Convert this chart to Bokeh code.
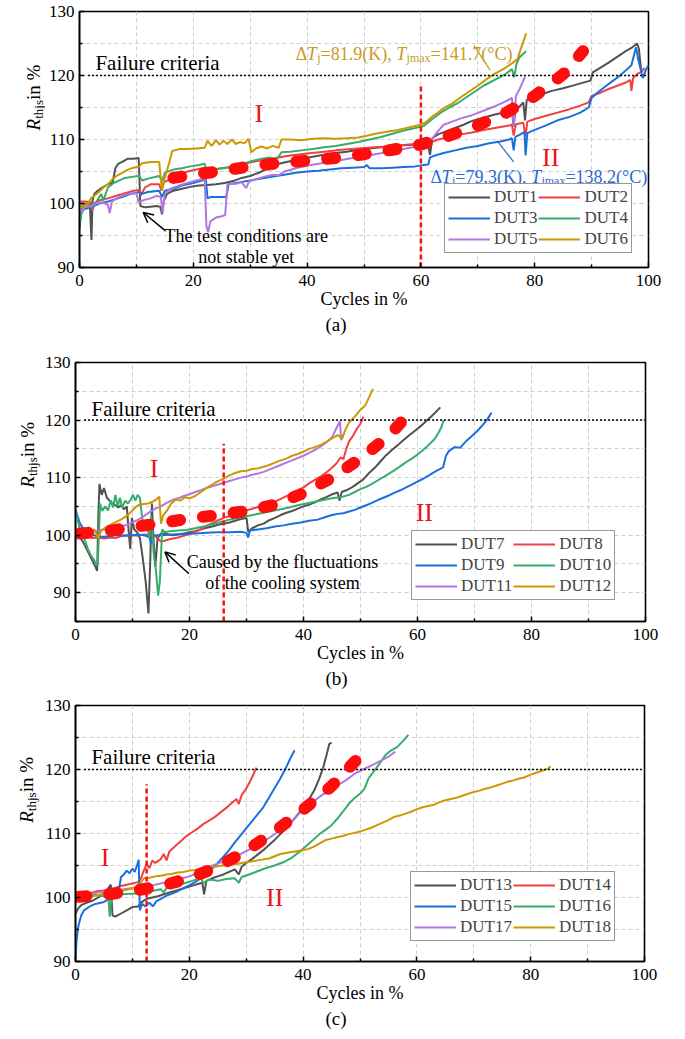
from math import pi
from bokeh.plotting import figure
from bokeh.layouts import column, row
from bokeh.models import Range1d, FixedTicker, Label, Arrow, OpenHead, Legend, LegendItem, Title
from bokeh.embed import file_html
from bokeh.resources import INLINE

# ---------------------------------------------------------------- data
cycles_ticks = [0, 20, 40, 60, 80, 100]
cycles_minor = [10, 30, 50, 70, 90]
r_ticks = [90, 100, 110, 120, 130]
r_minor = [85, 95, 105, 115, 125]
failure_level = 120

# panel (a)
dut1 = [(0, 96.0), (0.4, 99.5), (0.8, 100.0), (1.2, 99.8), (1.8, 100.2), (2.1, 94.3), (2.3, 100.5), (2.6, 101.5),
        (3.2, 102.0), (4, 102.5), (5, 103.0), (5.8, 103.2), (6.3, 105.5), (6.8, 106.2), (7.5, 106.5), (8.5, 107.0),
        (9.5, 107.0), (10.4, 107.1), (10.7, 99.6), (11.5, 99.4), (12.5, 99.5), (13.5, 99.6), (14.2, 99.5),
        (14.5, 98.3), (14.8, 100.4), (15.4, 101.5), (16.5, 102.0), (18, 102.3), (19.5, 102.6), (21, 102.8),
        (22.5, 102.9), (24, 103.0), (25.5, 103.2), (27, 103.5), (28.5, 104.0), (30, 104.3), (31.5, 104.8),
        (33, 105.5), (35, 106.2), (37, 106.6), (39, 107.0), (41, 107.3), (43, 107.6), (45, 107.9), (47, 108.1),
        (49, 108.4), (51, 108.6), (53, 108.8), (55, 108.9), (57, 109.1), (59, 109.2), (60.5, 109.3), (61.3, 109.0),
        (61.6, 107.6), (62, 110.2), (63, 110.8), (64.5, 111.3), (66, 111.8), (67.5, 112.3), (69, 112.9),
        (71, 113.4), (73, 113.9), (75, 114.3), (76, 114.5), (76.3, 112.0), (76.6, 114.6), (77.2, 115.0),
        (78, 115.8), (78.3, 113.0), (78.6, 116.2), (79.5, 116.6), (81, 117.0), (83, 117.6), (85, 118.0),
        (87, 118.5), (89, 119.0), (89.8, 119.2), (90.2, 120.5), (91.5, 121.2), (93, 122.0), (94.5, 122.9),
        (96, 123.8), (97, 124.3), (98, 125.0), (98.3, 124.2), (98.7, 121.0)]
dut2 = [(0, 100.3), (1, 100.3), (2, 100.2), (2.3, 99.0), (2.6, 100.0), (3.5, 100.5), (5, 100.8), (6.5, 101.2),
        (8, 101.6), (9.5, 102.0), (10.5, 102.1), (10.8, 101.3), (11.5, 102.5), (12.5, 103.0), (14, 103.0),
        (14.4, 102.0), (14.8, 103.3), (16, 103.8), (17.5, 104.5), (19, 105.0), (20.5, 105.3), (22, 105.6),
        (23, 105.2), (25, 105.5), (27, 105.8), (29, 106.2), (31, 106.6), (33, 106.9), (35, 107.2), (37, 107.5),
        (40, 107.8), (43, 108.1), (46, 108.4), (49, 108.6), (52, 108.8), (55, 109.0), (58, 109.2), (60, 109.3),
        (61.5, 109.5), (63, 110.0), (65, 110.4), (67, 110.8), (69, 111.1), (71, 111.5), (73, 111.8), (75, 112.1),
        (76, 112.3), (76.3, 110.6), (76.7, 112.4), (78, 112.6), (78.4, 110.5), (78.7, 112.8), (80, 113.2),
        (82, 113.7), (84, 114.2), (86, 114.7), (88, 115.3), (89.5, 115.8), (90, 116.8), (91.5, 117.3),
        (93, 117.9), (94.5, 118.4), (96, 118.9), (96.8, 119.3), (97, 117.6), (97.3, 119.6), (98, 120.2),
        (98.8, 120.6), (99.3, 121.2)]
dut3 = [(0, 98.5), (0.5, 99.0), (1.5, 99.3), (2.5, 99.6), (3.5, 100.0), (5, 100.3), (6, 100.6), (7.5, 101.0),
        (9, 101.5), (10.5, 101.8), (11, 101.5), (12, 101.8), (14, 102.0), (14.5, 101.0), (15, 102.0),
        (16.5, 102.3), (18, 102.8), (20, 103.2), (21.5, 103.6), (22.2, 103.8), (22.5, 100.8), (23, 101.0),
        (25, 101.0), (25.8, 101.0), (26.2, 103.0), (28, 103.3), (30, 103.6), (32, 103.9), (34, 104.2),
        (36, 104.5), (38, 104.8), (40, 105.0), (42, 105.1), (44, 105.3), (46, 105.5), (48, 105.6), (50, 105.7),
        (50.5, 106.0), (51, 105.5), (53, 105.5), (55, 105.6), (57, 105.7), (59, 105.8), (60.5, 106.0),
        (61.3, 106.1), (61.6, 107.2), (62.5, 107.5), (64, 107.9), (66, 108.3), (68, 108.7), (70, 109.0),
        (72, 109.4), (74, 109.7), (75.5, 110.0), (76, 110.2), (76.3, 108.3), (76.6, 110.4), (77.5, 110.8),
        (78.2, 111.2), (78.4, 107.5), (78.7, 111.0), (80, 111.5), (82, 112.2), (84, 113.0), (86, 113.5),
        (88, 114.2), (89.5, 115.0), (90, 116.5), (91, 117.3), (92, 118.0), (93.5, 119.0), (95, 120.0),
        (96, 120.8), (97, 121.6), (97.8, 124.4), (98.2, 122.5), (99, 119.6), (99.5, 120.8), (100, 121.6)]
dut4 = [(0, 97.0), (0.5, 99.0), (1.2, 100.0), (2, 99.6), (3, 100.3), (3.8, 101.5), (4.2, 100.5), (5, 102.5),
        (6, 103.2), (7, 103.6), (8, 104.0), (9.5, 104.2), (10.5, 104.3), (11, 103.6), (12.5, 104.0), (14, 104.3),
        (14.5, 103.5), (15, 104.8), (16.5, 105.3), (18, 105.5), (19.5, 105.8), (21, 106.0), (22, 106.2),
        (22.3, 105.2), (24, 105.4), (26, 105.6), (27.5, 105.8), (29, 106.3), (30.5, 106.7), (32, 107.0),
        (33.5, 107.2), (34.5, 106.7), (35.5, 108.0), (37, 108.1), (39, 108.3), (41, 108.5), (43, 108.8),
        (45, 109.0), (47, 109.3), (49, 109.6), (51, 110.0), (53, 110.4), (55, 110.9), (57, 111.4), (59, 111.8),
        (60.5, 112.1), (62, 113.2), (63.5, 114.2), (65, 115.0), (66.5, 115.7), (68, 116.6), (69.5, 117.5),
        (71, 118.4), (72.5, 119.1), (74, 119.8), (75, 120.3), (76, 121.0), (76.4, 119.7), (76.8, 121.8),
        (77.3, 122.8), (78, 123.4), (78.5, 123.8)]
dut5 = [(0, 99.5), (0.5, 98.6), (1, 99.6), (2, 99.5), (3, 100.0), (4, 100.2), (5, 99.8), (5.3, 98.5),
        (5.7, 100.3), (6.5, 100.8), (7.5, 101.2), (8.5, 101.5), (10, 101.6), (10.4, 100.2), (11.5, 100.6),
        (12.5, 100.8), (13.5, 101.2), (14.3, 101.0), (14.6, 98.5), (15, 101.5), (16, 102.3), (17.5, 102.8),
        (19, 103.2), (20.5, 103.6), (22, 103.9), (22.3, 96.5), (22.6, 95.5), (23, 97.2), (24, 97.8), (25, 98.0),
        (25.6, 98.2), (26, 103.0), (27.5, 103.1), (28.5, 103.3), (29.3, 102.4), (29.8, 103.5), (31, 103.8),
        (32.5, 104.2), (34, 104.5), (35, 104.4), (36, 105.0), (38, 105.5), (40, 105.9), (42, 106.2),
        (44, 106.5), (46, 106.8), (48, 107.1), (50, 107.4), (52, 107.7), (54, 108.0), (56, 108.3), (58, 108.7),
        (60, 109.0), (61.5, 109.4), (62.3, 110.5), (63, 111.3), (64, 112.3), (65.5, 112.8), (67, 113.3),
        (69, 113.8), (71, 114.5), (73, 115.2), (75, 116.0), (76, 116.5), (76.3, 112.0), (76.7, 116.8),
        (77.3, 117.8), (77.8, 118.8), (78.3, 119.8)]
dut6 = [(0, 99.0), (0.6, 100.0), (1.2, 99.5), (2, 100.8), (2.6, 101.2), (3.4, 101.8), (4.2, 102.5), (5, 103.0),
        (5.8, 103.8), (6.5, 104.3), (7.5, 104.8), (8.5, 105.3), (9.5, 105.6), (10.5, 105.8), (11, 106.3),
        (12.5, 106.5), (14, 106.5), (14.5, 102.0), (15, 104.0), (15.8, 106.5), (16.3, 108.2), (17.5, 108.5),
        (19, 108.5), (20.5, 108.6), (22, 108.7), (22.5, 109.8), (23.2, 109.0), (24, 109.9), (24.6, 109.2),
        (25.3, 109.8), (26, 109.3), (26.8, 110.0), (27.5, 109.3), (28.2, 109.6), (29, 109.4), (29.7, 110.1),
        (30.2, 108.0), (31, 108.6), (32, 108.9), (33, 108.6), (34, 109.0), (35, 108.7), (35.5, 110.0),
        (37, 110.0), (39, 109.9), (41, 110.1), (43, 110.2), (45, 110.1), (47, 110.2), (49, 110.3),
        (50.5, 110.6), (52, 110.9), (54, 111.2), (56, 111.5), (58, 111.9), (60, 112.3), (61, 112.8),
        (62, 113.6), (63, 114.2), (64, 114.9), (65.5, 115.6), (67, 116.6), (68.5, 117.5), (70, 118.4),
        (71.5, 119.4), (73, 120.3), (74.5, 121.0), (76, 121.9), (77, 122.6), (77.5, 124.0), (78, 125.3),
        (78.5, 126.6)]
trend_a = [(16.5, 104.0), (20, 104.5), (25, 105.1), (30, 105.8), (35, 106.3), (40, 106.7), (45, 107.1),
           (50, 107.7), (55, 108.4), (60, 109.2), (65, 110.6), (70, 112.2), (75, 114.2), (80, 116.8),
           (85, 120.2), (88.5, 123.8)]
boundary_a = (60, 118.3)

# panel (b)
dut7 = [(0, 101.0), (0.5, 100.5), (1, 99.3), (1.5, 98.5), (2, 97.5), (2.5, 96.5), (3, 95.5), (3.5, 94.5),
        (3.8, 93.8), (4.0, 103.0), (4.2, 108.9), (4.6, 107.0), (5.0, 108.2), (5.5, 106.5), (6, 106.0),
        (6.5, 105.5), (7, 105.2), (7.5, 104.8), (8, 105.2), (8.5, 104.5), (9, 105.0), (9.3, 101.0), (9.6, 97.6),
        (9.9, 103.0), (10.3, 101.0), (10.8, 100.5), (11.3, 99.5), (11.8, 96.0), (12.3, 92.0), (12.8, 86.4),
        (13.1, 95.0), (13.4, 105.5), (13.7, 99.0), (14.0, 94.5), (14.4, 99.5), (15, 100.3), (16, 100.2),
        (17, 100.0), (18, 100.1), (19, 100.3), (20, 100.5), (21, 100.7), (22, 101.0), (23, 101.3), (24, 101.5),
        (25, 101.8), (26, 102.0), (27, 102.2), (28, 102.5), (29, 102.8), (30, 103.0), (30.3, 100.6),
        (31, 101.2), (32, 101.7), (33, 102.0), (34, 102.6), (35, 103.0), (36, 103.5), (37, 103.9), (38, 104.2),
        (39, 104.6), (40, 105.0), (41, 105.3), (42, 105.7), (43, 106.2), (44, 106.6), (45, 107.1), (46, 107.4),
        (46.3, 106.0), (46.7, 107.5), (47.5, 107.8), (48.5, 108.3), (49.5, 109.0), (50.5, 109.7),
        (51.5, 110.8), (52.5, 111.7), (53.5, 112.8), (54.5, 113.9), (55.5, 114.8), (56.5, 115.6),
        (57.5, 116.5), (58.5, 117.3), (59.5, 118.1), (60.5, 118.9), (61.5, 119.8), (62.5, 120.7),
        (63.3, 121.5), (64, 122.2)]
dut8 = [(0, 100.0), (1, 100.2), (2, 99.8), (3, 99.5), (4, 99.6), (5, 99.4), (6, 99.6), (7, 99.5), (8, 99.8),
        (9, 100.0), (10, 100.0), (11, 99.9), (12, 100.1), (13, 100.0), (14, 99.8), (15, 98.9), (15.5, 99.0),
        (16.5, 99.3), (18, 99.6), (19, 99.9), (20, 100.2), (21, 100.6), (22, 101.0), (23, 101.6), (24, 102.1),
        (25, 102.6), (26, 103.0), (27, 103.3), (28, 103.6), (29, 104.0), (30, 104.3), (31, 104.6), (32, 104.9),
        (33, 105.1), (34, 105.4), (35, 105.8), (36, 106.3), (37, 106.8), (38, 107.3), (39, 107.8), (40, 108.3),
        (41, 109.0), (42, 109.6), (43, 110.2), (44, 110.9), (45, 111.7), (45.8, 112.5), (46.5, 113.5),
        (47, 113.2), (47.5, 115.0), (48, 116.3), (48.7, 117.3), (49.3, 118.4), (50, 119.4), (50.5, 120.6)]
dut9 = [(0, 104.5), (0.3, 103.5), (0.8, 102.0), (1.5, 101.0), (2.5, 100.3), (3.5, 99.9), (5, 99.7), (6, 99.8),
        (7, 100.0), (8, 100.0), (9, 99.9), (10, 100.0), (11, 100.1), (12, 100.0), (13, 99.6), (13.2, 98.6),
        (13.5, 100.0), (15, 100.0), (17, 100.1), (19, 100.2), (21, 100.3), (23, 100.4), (25, 100.5),
        (27, 100.5), (29, 100.6), (30, 100.4), (30.3, 99.6), (30.6, 100.8), (32, 101.0), (33.5, 101.2),
        (35, 101.5), (36.5, 101.7), (38, 102.0), (39.5, 102.2), (41, 102.5), (42.5, 102.7), (44, 103.2),
        (45, 103.5), (46, 103.7), (47, 103.8), (48, 104.1), (49, 104.4), (50, 104.8), (51, 105.2), (52, 105.6),
        (53, 106.1), (54, 106.5), (55, 106.9), (56, 107.4), (57, 107.8), (58, 108.3), (59, 108.8), (60, 109.3),
        (61, 109.8), (62, 110.4), (63, 111.0), (64, 111.5), (64.5, 111.8), (65, 113.8), (65.5, 114.6),
        (66.5, 115.3), (67.5, 115.2), (68.5, 116.3), (69.5, 117.2), (70.5, 118.1), (71.5, 119.2),
        (72.3, 120.2), (73, 121.3)]
dut10 = [(0, 104.2), (0.4, 102.5), (0.8, 101.0), (1.2, 100.0), (1.7, 99.0), (2.2, 97.5), (2.7, 96.5),
         (3.2, 95.8), (3.6, 95.0), (3.9, 94.8), (4.1, 100.0), (4.3, 105.5), (4.7, 104.2), (5.2, 105.0),
         (5.7, 104.3), (6.2, 106.0), (6.6, 104.8), (7.0, 107.0), (7.4, 105.0), (7.8, 106.5), (8.2, 104.8),
         (8.7, 106.0), (9.2, 105.5), (9.7, 106.2), (10.1, 107.0), (10.5, 106.0), (10.9, 107.0), (11.3, 106.5),
         (11.7, 103.0), (12.1, 101.0), (12.5, 102.5), (12.9, 99.5), (13.3, 103.5), (13.7, 97.0), (14.1, 94.0),
         (14.5, 89.5), (14.8, 92.0), (15.2, 101.0), (15.7, 100.5), (16.5, 100.7), (18, 100.8), (19.5, 100.9),
         (21, 101.2), (22.5, 101.5), (24, 101.9), (25.5, 102.3), (27, 102.7), (28.5, 103.0), (30, 103.3),
         (31.5, 103.6), (33, 103.9), (34.5, 104.2), (36, 104.5), (37.5, 104.8), (39, 105.2), (40.5, 105.5),
         (42, 105.8), (43.5, 106.1), (45, 106.4), (46.5, 106.6), (48, 107.0), (49, 107.5), (50, 108.0),
         (51, 108.4), (52, 108.9), (53, 109.5), (54, 110.1), (55, 110.7), (56, 111.3), (57, 112.0), (58, 112.7),
         (59, 113.3), (60, 114.0), (61, 114.8), (62, 115.7), (63, 116.7), (63.7, 117.8), (64.2, 118.8),
         (64.6, 120.0)]
dut11 = [(0, 99.0), (0.5, 99.8), (1, 100.3), (2, 100.4), (3, 100.6), (4, 100.8), (5, 101.0), (6, 101.1),
         (7, 101.3), (8, 101.5), (9, 101.8), (10, 102.2), (11, 102.7), (12, 103.3), (13, 104.0), (14, 104.6),
         (15, 105.0), (16, 105.6), (17, 106.1), (18, 106.4), (19, 106.8), (20, 107.1), (21, 107.5), (22, 107.8),
         (23, 108.2), (24, 108.5), (25, 108.8), (26, 109.1), (27, 109.4), (28, 109.7), (29, 110.0), (30, 110.2),
         (31, 110.5), (32, 110.7), (33, 111.0), (34, 111.4), (35, 111.8), (36, 112.2), (37, 112.6), (38, 113.0),
         (39, 113.4), (40, 113.8), (41, 114.3), (42, 114.8), (43, 115.4), (44, 116.1), (45, 117.0),
         (45.5, 118.0), (46, 119.0), (46.4, 119.8), (46.6, 116.5), (46.9, 117.5)]
dut12 = [(0, 99.5), (0.5, 100.0), (1.5, 100.3), (2.5, 100.5), (3.3, 101.0), (4, 99.5), (4.5, 100.8),
         (5.5, 101.5), (6.5, 102.0), (7.5, 102.5), (8.5, 103.0), (9.5, 103.8), (10.5, 104.8), (11.2, 105.3),
         (12, 105.4), (12.8, 105.5), (13.5, 105.8), (14.2, 106.2), (14.7, 106.7), (15, 102.0), (15.4, 103.5),
         (16, 104.2), (16.8, 105.5), (17.6, 106.2), (18.4, 106.0), (19.2, 106.6), (20, 106.4), (21, 106.8),
         (22, 107.5), (23, 108.2), (24, 108.8), (25, 109.4), (26, 109.8), (27, 110.4), (28, 110.8), (29, 111.1),
         (30, 111.2), (31, 111.5), (32, 111.6), (33, 111.9), (34, 112.2), (35, 112.6), (36, 113.0), (37, 113.3),
         (38, 113.8), (39, 114.1), (40, 114.5), (41, 115.0), (42, 115.3), (43, 115.7), (44, 116.2), (45, 116.8),
         (46, 117.4), (46.8, 116.8), (47.3, 118.2), (48, 119.6), (49, 120.6), (50, 121.8), (50.8, 122.5),
         (51.3, 123.5), (51.8, 124.6), (52.2, 125.4)]
trend_b = [(0.8, 100.3), (5, 100.6), (10, 101.4), (15, 102.1), (20, 102.9), (25, 103.5), (30, 104.2),
           (35, 105.3), (40, 107.3), (45, 110.0), (50, 113.3), (55, 117.3), (59.3, 122.0)]
boundary_b = (26, 115.9)

# panel (c)
dut13 = [(0, 97.5), (0.5, 98.3), (1, 98.8), (2, 99.2), (3, 99.5), (4, 100.0), (5, 100.7), (5.8, 101.5),
         (6.2, 102.0), (6.5, 97.2), (7, 97.0), (8, 97.5), (9, 98.0), (10, 98.5), (11, 98.6), (11.5, 99.2),
         (12.5, 99.8), (13.5, 100.0), (14.5, 100.2), (15.5, 100.5), (17, 100.9), (18.5, 101.3), (20, 101.7),
         (21.5, 102.1), (22.3, 102.3), (22.6, 100.5), (23, 102.6), (24, 103.0), (25, 103.3), (26, 103.6),
         (27, 104.0), (28, 104.4), (28.7, 103.6), (29.2, 104.8), (30, 105.4), (31, 106.0), (32, 106.7),
         (33, 107.4), (34, 108.2), (35, 109.0), (36, 109.9), (37, 110.8), (38, 111.8), (39, 112.9), (40, 114.0),
         (41, 115.3), (42, 116.8), (42.8, 118.5), (43.5, 120.2), (44.1, 122.2), (44.6, 124.0), (45, 124.2)]
dut14 = [(0, 99.8), (1, 100.3), (2, 100.6), (3, 100.8), (4, 101.0), (5, 101.1), (6, 101.3), (7, 101.5),
         (8, 101.8), (9, 102.0), (10, 102.2), (11, 102.4), (11.5, 103.0), (12, 104.2), (12.5, 105.2),
         (13, 104.6), (13.5, 105.8), (14, 105.4), (15, 106.0), (15.5, 106.8), (16, 105.8), (16.5, 107.2),
         (17.5, 108.0), (18.5, 108.8), (19.5, 109.6), (20.5, 110.2), (21.5, 110.8), (22.5, 111.5), (23.5, 112.0),
         (24.5, 112.6), (25.5, 113.3), (26.5, 114.0), (27.5, 114.8), (28.3, 115.4), (28.7, 114.6), (29.2, 116.0),
         (30, 117.0), (30.6, 118.0), (31.2, 119.1), (31.8, 120.3)]
dut15 = [(0, 90.5), (0.2, 93.5), (0.5, 95.5), (1, 97.2), (1.5, 98.0), (2.5, 98.6), (3.5, 99.0), (5, 99.3),
         (6, 99.8), (7, 100.5), (7.6, 101.0), (8, 103.2), (8.5, 103.6), (9, 104.2), (9.5, 103.8), (10, 104.5),
         (10.4, 104.0), (10.8, 105.0), (11.1, 105.9), (11.3, 98.0), (11.7, 99.0), (12.3, 98.6), (13, 99.2),
         (13.6, 98.6), (14.2, 99.4), (15, 99.8), (16, 100.3), (17, 100.6), (18, 101.0), (19, 101.5), (20, 101.9),
         (21, 102.4), (22, 103.0), (23, 103.7), (24, 104.5), (25, 105.4), (26, 106.4), (27, 107.4), (28, 108.6),
         (29, 109.7), (30, 110.8), (31, 111.9), (32, 113.0), (33, 114.1), (34, 115.6), (35, 117.1), (36, 118.6),
         (37, 120.3), (37.8, 121.8), (38.5, 123.0)]
dut16 = [(0, 100.0), (1, 100.3), (2, 100.5), (3, 100.4), (4, 100.3), (5, 100.2), (5.8, 99.8), (6, 97.0),
         (6.3, 100.0), (7, 100.3), (8, 100.5), (10, 100.6), (12, 100.7), (13.5, 101.0), (15, 101.3), (15.5, 100.8),
         (16, 101.5), (17.5, 101.8), (19, 102.2), (20.5, 102.6), (22, 103.0), (22.5, 102.3), (23.5, 102.8),
         (25, 102.6), (26.5, 102.9), (28, 103.0), (28.7, 102.3), (29.2, 103.2), (30.5, 103.6), (32, 104.1),
         (33.5, 104.6), (35, 105.0), (36.5, 105.5), (38, 106.2), (39, 106.9), (40, 107.6), (41, 108.4),
         (42, 109.2), (43, 110.0), (44, 110.6), (45, 111.3), (46, 112.3), (47, 113.4), (48, 114.6), (49, 115.5),
         (50, 116.2), (50.8, 117.0), (51.5, 118.6), (52.5, 119.8), (53.5, 121.0), (54.5, 122.3), (55.5, 123.0),
         (56.5, 123.5), (57.5, 124.4), (58.5, 125.4)]
dut17 = [(0, 100.0), (1, 100.3), (2, 100.5), (3, 100.6), (4, 100.8), (5, 100.9), (6, 101.0), (8, 101.2),
         (10, 101.5), (12, 101.7), (14, 102.0), (16, 102.4), (18, 102.8), (20, 103.3), (22, 104.0), (23.5, 104.8),
         (25, 105.3), (26.5, 105.8), (28, 106.3), (29.5, 107.0), (31, 107.7), (32.5, 108.4), (34, 109.3),
         (35.5, 110.2), (37, 111.1), (38.5, 112.3), (40, 113.8), (41.5, 114.8), (43, 115.8), (44.5, 116.7),
         (46, 117.5), (47.5, 118.3), (49, 119.3), (50.5, 120.0), (52, 120.6), (53.5, 121.3), (55, 122.0),
         (56.2, 122.8)]
dut18 = [(0, 99.4), (1, 99.8), (2, 100.0), (3, 100.2), (4, 100.4), (5, 100.6), (6, 100.7), (7, 100.9),
         (8, 101.0), (9, 101.2), (10, 101.4), (11, 101.8), (11.6, 102.5), (12, 103.0), (13, 103.1), (14, 103.3),
         (15, 103.4), (16, 103.6), (17, 103.7), (18, 103.9), (19, 104.0), (20, 104.2), (21, 104.3), (22, 104.5),
         (23, 104.6), (24, 104.7), (25, 104.9), (26, 105.0), (28, 105.2), (30, 105.5), (32, 105.8), (34, 106.1),
         (36, 106.8), (38, 107.1), (40, 107.4), (41, 107.6), (42, 108.0), (43, 108.5), (44, 109.0), (45, 109.2),
         (46, 109.4), (47, 109.6), (48, 109.9), (49, 110.1), (50, 110.3), (51, 110.6), (52, 110.9), (53, 111.3),
         (54, 111.7), (55, 112.1), (56, 112.6), (57, 112.8), (58, 113.1), (59, 113.4), (60, 113.8), (61, 114.1),
         (62, 114.3), (63, 114.5), (64, 114.9), (65, 115.2), (66, 115.4), (67, 115.6), (68, 115.9), (69, 116.2),
         (70, 116.5), (71, 116.7), (72, 117.0), (73, 117.2), (74, 117.5), (75, 117.8), (76, 118.1), (77, 118.3),
         (78, 118.6), (79, 118.8), (80, 119.2), (81, 119.5), (82, 119.8), (83, 120.1), (83.5, 120.5)]
trend_c = [(0.5, 100.1), (5, 100.4), (10, 101.0), (15, 101.8), (20, 103.0), (25, 104.8), (30, 107.3),
           (35, 110.3), (40, 113.7), (45, 117.4), (49.7, 121.8)]
boundary_c = (12.5, 117.7)

# ---------------------------------------------------------------- style
FONT = "Liberation Serif"
COLORS = ["#515151", "#F14040", "#1A6FDF", "#37AD6B", "#B177DE", "#CC9900"]
RED = "#ff0d0d"
NUMERAL_RED = "#e8141c"
GOLD_TXT = "#c99a1e"
BLUE_TXT = "#2a6bd0"
PAGE_W = 685
AXIS_ROOM = 34  # room Bokeh reserves for the y tick labels

EM = {' ': .25, '.': .25, ',': .25, '=': .564, '(': .333, ')': .333, 'K': .722, 'C': .667, '°': .4,
      'Δ': .612, 'T': .58, 'j': .278, 'm': .778, 'a': .444, 'x': .5, 't': .278, 'h': .5, 's': .389,
      'i': .278, 'n': .5, '%': .833, 'R': .611}


def tw(s, size):
    return sum(EM.get(ch, .5) for ch in s) * size


def rich(p, x, y, segs, color, vertical=False, level="annotation"):
    adv = 0.0
    for txt, size, italic, shift in segs:
        kw = dict(x=x, y=y, text=txt, text_font=FONT, text_font_size=f"{size}px",
                  text_font_style="italic" if italic else "normal", text_color=color,
                  text_align="left", text_baseline="alphabetic", level=level)
        if vertical:
            p.add_layout(Label(x_offset=shift, y_offset=adv, angle=pi / 2, **kw))
        else:
            p.add_layout(Label(x_offset=adv, y_offset=-shift, **kw))
        adv += tw(txt, size)


def make_fig(width, height, ymin, left, right, top, bottom, caption, cap_offset):
    p = figure(width=width, height=height, x_range=Range1d(0, 100), y_range=Range1d(ymin, 130),
               output_backend="svg", toolbar_location=None,
               min_border_left=left, min_border_right=right, min_border_top=top, min_border_bottom=bottom)
    p.outline_line_color = "black"
    p.outline_line_width = 1.6
    p.outline_line_alpha = 1
    xt = FixedTicker(ticks=cycles_ticks, minor_ticks=cycles_minor)
    yt = FixedTicker(ticks=r_ticks, minor_ticks=r_minor)
    p.xaxis.ticker = xt
    p.yaxis.ticker = yt
    p.xgrid.ticker = xt
    p.ygrid.ticker = yt
    for g in (p.xgrid, p.ygrid):
        g.grid_line_color = "#cfcfcf"
        g.grid_line_dash = "4 3"
        g.grid_line_width = 1
        g.minor_grid_line_color = "#cfcfcf"
        g.minor_grid_line_dash = "4 3"
        g.minor_grid_line_width = 1
    for ax in (p.xaxis, p.yaxis):
        ax.axis_line_color = "black"
        ax.axis_line_width = 1.6
        ax.major_tick_in = 5
        ax.major_tick_out = 0
        ax.minor_tick_in = 3
        ax.minor_tick_out = 0
        ax.major_tick_line_width = 1.5
        ax.minor_tick_line_width = 1.5
        ax.major_label_text_font = FONT
        ax.major_label_text_font_size = "17px"
        ax.major_label_text_color = "black"
    p.xaxis.major_label_standoff = 7
    p.yaxis.major_label_standoff = 5
    p.xaxis.axis_label = "Cycles in %"
    p.xaxis.axis_label_text_font = FONT
    p.xaxis.axis_label_text_font_size = "18px"
    p.xaxis.axis_label_text_font_style = "normal"
    p.xaxis.axis_label_text_color = "black"
    p.xaxis.axis_label_standoff = 0
    p.add_layout(Title(text=caption, align="left", offset=cap_offset, standoff=0, text_font=FONT,
                       text_font_size="19px", text_font_style="normal", text_color="black"), "below")
    return p


def ylabel_strip(width, height, base_x, start_y):
    """narrow strip left of a panel that holds the rotated title R_thjs in %"""
    s = figure(width=width, height=height, x_range=Range1d(0, width), y_range=Range1d(0, height),
               output_backend="svg", toolbar_location=None, x_axis_type=None, y_axis_type=None,
               min_border=0)
    s.outline_line_color = None
    s.grid.visible = False
    rich(s, base_x, start_y, [("R", 19, True, 0), ("thjs", 13, False, 5), (" in %", 19, False, 0)],
         "black", vertical=True)
    return s


def xs(series):
    return [a for a, b in series]


def ys(series):
    return [b for a, b in series]


def panel(p, series, names, trend, boundary, ymin, leg_loc):
    rends = []
    for s, name, c in zip(series, names, COLORS):
        r = p.line(xs(s), ys(s), line_color=c, line_width=2)
        rends.append((name, r))
    p.line([1.5, 100], [failure_level, failure_level], line_color="black", line_width=1.5, line_dash="2 2")
    p.line([boundary[0], boundary[0]], [ymin, boundary[1]], line_color=RED, line_width=2.5, line_dash="5 3")
    p.line(xs(trend), ys(trend), line_color=RED, line_width=12, line_dash="8 23", line_cap="round")
    items = [LegendItem(label=rends[i][0], renderers=[rends[i][1]]) for i in (0, 2, 4, 1, 3, 5)]
    leg = Legend(items=items, ncols=2, location=leg_loc, margin=0, padding=3, spacing=1,
                 label_text_font=FONT, label_text_font_size="17px", label_standoff=4,
                 glyph_width=42, glyph_height=20, label_height=20,
                 border_line_color="#333333", border_line_width=1, background_fill_alpha=1)
    p.add_layout(leg)
    p.add_layout(Label(x=2.8, y=122.0, text="Failure criteria", text_font=FONT, text_font_size="21px",
                       text_baseline="middle", text_color="black"))


def numeral(p, x, y, t):
    p.add_layout(Label(x=x, y=y, text=t, text_font=FONT, text_font_size="26px", text_align="center",
                       text_baseline="middle", text_color=NUMERAL_RED))


def note(p, x, ys_, lines):
    for t, yy in zip(lines, ys_):
        p.add_layout(Label(x=x, y=yy, text=t, text_font=FONT, text_font_size="18px", text_align="center",
                           text_baseline="middle", text_color="black"))


def delta_note(p, x, y, dtj, tjmax, color):
    rich(p, x, y, [("Δ", 18, False, 0), ("T", 18, True, 0), ("j", 12, False, 4),
                   (f" ={dtj}(K),", 18, False, 0), ("T", 18, True, 0), ("jmax", 12, False, 4),
                   (f" ={tjmax}(°C)", 18, False, 0)], color, level="overlay")


# ---------------------------------------------------------------- panel a
SA = 79 - AXIS_ROOM
pa = make_fig(PAGE_W - SA, 338, 90, AXIS_ROOM, 37, 11, 71, "(a)", 246)
panel(pa, [dut1, dut2, dut3, dut4, dut5, dut6], ["DUT1", "DUT2", "DUT3", "DUT4", "DUT5", "DUT6"],
      trend_a, boundary_a, 90, (365, 14))
numeral(pa, 31.5, 114.1, "I")
numeral(pa, 82.8, 107.2, "II")
note(pa, 29.3, [95.0, 91.7], ["The test conditions are", "not stable yet"])
pa.add_layout(Arrow(end=OpenHead(size=10, line_width=1.5, line_color="black"), line_width=1.5,
                    x_start=15.0, y_start=95.8, x_end=11.2, y_end=98.6))
pa.line([69.3, 72.2], [124.7, 120.8], line_color=GOLD_TXT, line_width=1.2)
pa.line([73.4, 76.3], [109.8, 106.5], line_color=BLUE_TXT, line_width=1.2)
delta_note(pa, 38.0, 123.4, "81.9", "141.7", GOLD_TXT)
delta_note(pa, 61.7, 104.2, "79.3", "138.2", BLUE_TXT)
la = ylabel_strip(SA, 338, 33, 181)

# ---------------------------------------------------------------- panel b
SB = 75 - AXIS_ROOM
pb = make_fig(PAGE_W - SB, 356, 85, AXIS_ROOM, 40, 24, 73, "(b)", 250)
panel(pb, [dut7, dut8, dut9, dut10, dut11, dut12], ["DUT7", "DUT8", "DUT9", "DUT10", "DUT11", "DUT12"],
      trend_b, boundary_b, 85, (336, 21))
numeral(pb, 13.8, 111.6, "I")
numeral(pb, 61.2, 104.0, "II")
note(pb, 36.3, [95.4, 91.7], ["Caused by the fluctuations", "of the cooling system"])
pb.add_layout(Arrow(end=OpenHead(size=10, line_width=1.5, line_color="black"), line_width=1.5,
                    x_start=19.9, y_start=93.3, x_end=15.7, y_end=97.1))
lb = ylabel_strip(SB, 356, 27, 184)

# ---------------------------------------------------------------- panel c
SC = 75 - AXIS_ROOM
pc = make_fig(PAGE_W - SC, 345, 90, AXIS_ROOM, 41, 11, 78, "(c)", 250)
panel(pc, [dut13, dut14, dut15, dut16, dut17, dut18], ["DUT13", "DUT14", "DUT15", "DUT16", "DUT17", "DUT18"],
      trend_c, boundary_c, 90, (335, 20))
numeral(pc, 5.2, 106.3, "I")
numeral(pc, 35.0, 100.0, "II")
lc = ylabel_strip(SC, 345, 26, 187)

layout = column(row(la, pa), row(lb, pb), row(lc, pc))
open("out.html", "w").write(file_html(layout, INLINE))
